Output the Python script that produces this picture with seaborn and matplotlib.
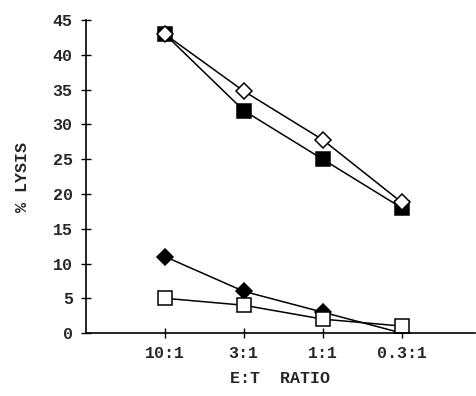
import numpy as np
import pandas as pd
import seaborn as sns
import matplotlib.pyplot as plt

ratios = ["10:1", "3:1", "1:1", "0.3:1"]
open_diamond = [43, 34.8, 27.8, 18.8]
filled_square = [43, 32, 25, 18]
filled_diamond = [11, 6, 3, 0]
open_square = [5, 4, 2, 1]
yticks = [0, 5, 10, 15, 20, 25, 30, 35, 40, 45]

sns.set_style("ticks")
plt.rcParams['font.family'] = ['Liberation Mono', 'DejaVu Sans']
plt.rcParams['font.weight'] = 'bold'

fig = plt.figure(figsize=(4.77, 3.96), dpi=100)
ax = fig.add_axes([0.18, 0.159, 0.816, 0.79])

xpos = np.arange(1, len(ratios) + 1)
series = [
    (filled_square, "s", "black", 10),
    (open_diamond, "D", "white", 8.5),
    (filled_diamond, "D", "black", 8.5),
    (open_square, "s", "white", 10),
]
for vals, mk, face, ms in series:
    df = pd.DataFrame({"x": xpos, "y": vals})
    sns.lineplot(data=df, x="x", y="y", ax=ax, color="black", lw=1.1,
                 marker=mk, markersize=ms, markerfacecolor=face,
                 markeredgecolor="black", markeredgewidth=1.1)

ax.set_xlim(0, 4.93)
ax.set_ylim(0, 45)
ax.set_xticks(xpos)
ax.set_xticklabels(ratios, fontsize=12, fontweight='bold')
ax.set_yticks(yticks)
ax.set_yticklabels([str(t) for t in yticks], fontsize=12, fontweight='bold')
ax.tick_params(axis='both', direction='inout', length=7, width=1, color='black')
ax.tick_params(axis='x', pad=6)
ax.tick_params(axis='y', pad=6)
for s in ['top', 'right']:
    ax.spines[s].set_visible(False)
for s in ['left', 'bottom']:
    ax.spines[s].set_color('black')
    ax.spines[s].set_linewidth(1.2)
ax.set_xlabel("E:T  RATIO", fontsize=12, fontweight='bold', labelpad=7)
ax.set_ylabel("% LYSIS", fontsize=12, fontweight='bold', labelpad=16)

fig.savefig("out.png", dpi=100)
